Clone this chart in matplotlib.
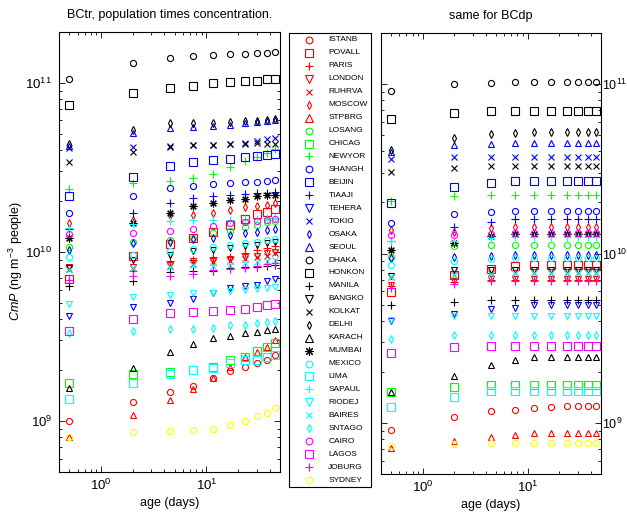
import matplotlib
matplotlib.use("Agg")
import matplotlib.pyplot as plt
import numpy as np

plt.rcParams['font.family'] = ['Liberation Sans', 'DejaVu Sans']
plt.rcParams['mathtext.fontset'] = 'custom'
plt.rcParams['mathtext.rm'] = 'Liberation Sans'
plt.rcParams['mathtext.it'] = 'Liberation Sans:italic'
plt.rcParams['mathtext.default'] = 'regular'

# ---------------- data (values in units of 1e9 ng m^-3 people) ----------------
age = [0.5, 2, 4.5, 7.5, 11.5, 16.75, 23.5, 30.5, 37.5, 44.5]

cities = ['ISTANB', 'POVALL', 'PARIS', 'LONDON', 'RUHRVA', 'MOSCOW', 'STPBRG',
          'LOSANG', 'CHICAG', 'NEWYOR',
          'SHANGH', 'BEIJIN', 'TIAAJI', 'TEHERA', 'TOKIO', 'OSAKA', 'SEOUL',
          'DHAKA', 'HONKON', 'MANILA', 'BANGKO', 'KOLKAT', 'DELHI', 'KARACH', 'MUMBAI',
          'MEXICO', 'LIMA', 'SAPAUL', 'RIODEJ', 'BAIRES', 'SNTAGO',
          'CAIRO', 'LAGOS', 'JOBURG',
          'SYDNEY']

# BCtr (left panel)
tr_ISTANB = [1.0, 1.29, 1.48, 1.62, 1.8, 1.97, 2.1, 2.2, 2.3, 2.45]
tr_POVALL = [6.95, 9.5, 11.1, 12.1, 13.2, 14.5, 15.6, 16.7, 17.3, 17.9]
tr_PARIS = [6.8, 7.7, 8.8, 9.0, 9.3, 9.4, 9.85, 10.3, 10.6, 10.8]
tr_LONDON = [8.1, 8.1, 8.4, 8.8, 8.9, 9.1, 9.4, 9.5, 9.8, 10.0]
tr_RUHRVA = [7.9, 8.0, 8.3, 8.5, 8.7, 8.9, 9.1, 9.4, 9.5, 9.8]
tr_MOSCOW = [14.9, 15.5, 16.6, 16.6, 16.9, 17.6, 18.4, 18.8, 19.0, 19.4]
tr_STPBRG = [0.805, 1.09, 1.34, 1.54, 1.8, 2.1, 2.4, 2.55, 2.75, 3.0]
tr_LOSANG = [10.7, 11.5, 11.8, 12.1, 12.9, 13.3, 14.0, 14.4, 15.0, 15.2]
tr_CHICAG = [1.67, 1.89, 1.94, 2.0, 2.1, 2.3, 2.4, 2.6, 2.75, 2.9]
tr_NEWYOR = [23.5, 25.7, 26.3, 27.4, 28.9, 32.0, 34.4, 36.6, 38.3, 40.5]
tr_SHANGH = [17.1, 21.3, 23.8, 24.7, 25.2, 25.6, 25.8, 26.1, 26.3, 26.7]
tr_BEIJIN = [21.5, 27.9, 32.4, 33.9, 35.0, 35.5, 36.6, 37.1, 37.5, 37.8]
tr_TIAAJI = [13.7, 16.9, 19.4, 20.8, 21.4, 21.8, 22.0, 22.2, 22.4, 22.7]
tr_TEHERA = [4.2, 4.7, 5.0, 5.3, 5.7, 6.1, 6.3, 6.4, 6.7, 6.9]
tr_TOKIO = [41.0, 41.9, 42.5, 43.0, 43.2, 43.8, 44.3, 45.5, 46.3, 47.0]
tr_OSAKA = [10.3, 11.3, 11.5, 11.9, 12.1, 12.6, 12.9, 13.2, 13.5, 13.7]
tr_SEOUL = [42.3, 50.3, 53.8, 55.0, 55.5, 56.3, 57.6, 58.9, 59.7, 60.5]
tr_DHAKA = [106, 131, 140, 144, 147, 148, 149, 150, 151, 152]
tr_HONKON = [73.8, 86.6, 93.4, 96.5, 100, 101, 102, 103, 105, 105.5]
tr_MANILA = [6.3, 6.7, 7.65, 7.75, 7.75, 8.0, 8.1, 8.2, 8.3, 8.4]
tr_BANGKO = [8.05, 9.0, 9.6, 10.2, 10.3, 10.6, 10.8, 11.0, 11.3, 11.5]
tr_KOLKAT = [34.2, 38.9, 41.9, 42.9, 42.9, 43.5, 43.5, 43.9, 43.5, 43.5]
tr_DELHI = [43.5, 53.0, 57.6, 58.0, 58.0, 58.9, 59.2, 59.7, 60.2, 60.8]
tr_KARACH = [1.57, 2.05, 2.56, 2.84, 3.08, 3.2, 3.3, 3.35, 3.45, 3.5]
tr_MUMBAI = [12.1, 14.8, 17.1, 18.6, 19.4, 20.3, 20.5, 21.3, 21.6, 21.8]
tr_MEXICO = [9.3, 9.6, 10.1, 10.4, 10.7, 11.0, 11.3, 11.5, 11.8, 11.9]
tr_LIMA = [1.36, 1.67, 1.9, 2.0, 2.05, 2.2, 2.3, 2.3, 2.4, 2.45]
tr_SAPAUL = [13.8, 14.6, 15.3, 15.4, 15.5, 15.5, 15.6, 15.7, 15.8, 15.9]
tr_RIODEJ = [4.9, 5.45, 5.6, 5.75, 5.75, 5.85, 5.95, 6.05, 6.1, 6.2]
tr_BAIRES = [7.85, 8.0, 8.2, 8.4, 8.3, 8.4, 8.6, 8.7, 8.8, 9.0]
tr_SNTAGO = [3.32, 3.43, 3.5, 3.5, 3.55, 3.7, 3.7, 3.8, 3.85, 3.9]
tr_CAIRO = [12.8, 13.0, 13.4, 13.7, 14.2, 14.9, 15.0, 15.2, 15.5, 15.6]
tr_LAGOS = [3.43, 4.0, 4.33, 4.4, 4.5, 4.55, 4.6, 4.7, 4.85, 4.9]
tr_JOBURG = [6.8, 7.2, 7.2, 7.4, 7.85, 7.96, 8.05, 8.3, 8.5, 8.6]
tr_SYDNEY = [0.805, 0.86, 0.87, 0.88, 0.90, 0.95, 1.0, 1.07, 1.12, 1.2]

# BCdp (right panel)
dp_ISTANB = [0.91, 1.09, 1.17, 1.19, 1.23, 1.25, 1.26, 1.26, 1.26, 1.26]
dp_POVALL = [5.9, 7.45, 8.15, 8.4, 8.5, 8.6, 8.6, 8.6, 8.6, 8.6]
dp_PARIS = [6.4, 6.75, 6.95, 6.95, 6.95, 6.95, 6.95, 6.95, 6.95, 6.95]
dp_LONDON = [6.5, 6.9, 7.1, 7.1, 7.1, 7.1, 7.1, 7.1, 7.1, 7.1]
dp_RUHRVA = [7.3, 7.5, 7.7, 7.7, 7.7, 7.7, 7.7, 7.7, 7.7, 7.7]
dp_MOSCOW = [13.8, 13.4, 14.2, 14.3, 14.3, 14.3, 14.3, 14.3, 14.3, 14.3]
dp_STPBRG = [0.71, 0.78, 0.83, 0.85, 0.87, 0.87, 0.87, 0.87, 0.87, 0.87]
dp_LOSANG = [9.5, 11.0, 11.2, 11.2, 11.2, 11.2, 11.2, 11.2, 11.2, 11.2]
dp_CHICAG = [1.52, 1.64, 1.67, 1.67, 1.67, 1.67, 1.67, 1.67, 1.67, 1.67]
dp_NEWYOR = [20.5, 21.8, 22.1, 22.1, 22.1, 22.1, 22.1, 22.1, 22.1, 22.1]
dp_SHANGH = [15.2, 17.1, 17.6, 17.8, 17.8, 17.8, 17.8, 17.8, 17.8, 17.8]
dp_BEIJIN = [19.8, 24.6, 26.2, 26.6, 26.6, 26.6, 26.6, 26.6, 26.6, 26.6]
dp_TIAAJI = [11.9, 14.4, 15.4, 15.9, 15.9, 15.9, 15.9, 15.9, 15.9, 15.9]
dp_TEHERA = [4.0, 4.4, 4.7, 4.8, 5.0, 5.0, 5.0, 5.0, 5.0, 5.0]
dp_TOKIO = [36.1, 37.3, 37.3, 37.3, 37.3, 37.3, 37.3, 37.3, 37.3, 37.3]
dp_OSAKA = [9.4, 9.6, 9.7, 9.8, 9.8, 9.8, 9.8, 9.8, 9.8, 9.8]
dp_SEOUL = [39.6, 43.8, 44.3, 44.8, 44.8, 44.8, 44.8, 44.8, 44.8, 44.8]
dp_DHAKA = [90.4, 100, 102, 103, 103, 103, 103, 103, 103, 103]
dp_HONKON = [62.1, 67.4, 68.9, 68.9, 68.9, 68.9, 68.9, 68.9, 68.9, 68.9]
dp_MANILA = [5.0, 5.2, 5.3, 5.3, 5.3, 5.3, 5.3, 5.3, 5.3, 5.3]
dp_BANGKO = [7.4, 8.0, 8.0, 8.0, 8.0, 8.0, 8.0, 8.0, 8.0, 8.0]
dp_KOLKAT = [30.4, 31.8, 32.9, 32.9, 32.9, 32.9, 32.9, 32.9, 32.9, 32.9]
dp_DELHI = [40.9, 47.9, 50.8, 51.7, 52.4, 52.4, 52.4, 52.4, 52.4, 52.4]
dp_KARACH = [1.52, 1.89, 2.2, 2.35, 2.45, 2.45, 2.45, 2.45, 2.45, 2.45]
dp_MUMBAI = [10.5, 11.6, 12.7, 13.1, 13.1, 13.1, 13.1, 13.1, 13.1, 13.1]
dp_MEXICO = [8.5, 9.0, 9.3, 9.4, 9.4, 9.4, 9.4, 9.4, 9.4, 9.4]
dp_LIMA = [1.24, 1.43, 1.55, 1.55, 1.55, 1.55, 1.55, 1.55, 1.55, 1.55]
dp_SAPAUL = [11.9, 11.9, 12.3, 12.5, 12.5, 12.5, 12.5, 12.5, 12.5, 12.5]
dp_RIODEJ = [4.03, 4.3, 4.3, 4.3, 4.3, 4.3, 4.3, 4.3, 4.3, 4.3]
dp_BAIRES = [7.3, 7.5, 7.6, 7.7, 7.7, 7.7, 7.7, 7.7, 7.7, 7.7]
dp_SNTAGO = [3.14, 3.3, 3.3, 3.3, 3.3, 3.3, 3.3, 3.3, 3.3, 3.3]
dp_CAIRO = [12.8, 12.8, 13.1, 13.2, 13.2, 13.2, 13.2, 13.2, 13.2, 13.2]
dp_LAGOS = [2.6, 2.8, 2.85, 2.85, 2.85, 2.85, 2.85, 2.85, 2.85, 2.85]
dp_JOBURG = [6.3, 6.6, 6.85, 6.85, 6.85, 6.85, 6.85, 6.85, 6.85, 6.85]
dp_SYDNEY = [0.73, 0.75, 0.76, 0.76, 0.76, 0.76, 0.76, 0.76, 0.76, 0.76]

bctr = [tr_ISTANB, tr_POVALL, tr_PARIS, tr_LONDON, tr_RUHRVA, tr_MOSCOW, tr_STPBRG,
        tr_LOSANG, tr_CHICAG, tr_NEWYOR,
        tr_SHANGH, tr_BEIJIN, tr_TIAAJI, tr_TEHERA, tr_TOKIO, tr_OSAKA, tr_SEOUL,
        tr_DHAKA, tr_HONKON, tr_MANILA, tr_BANGKO, tr_KOLKAT, tr_DELHI, tr_KARACH, tr_MUMBAI,
        tr_MEXICO, tr_LIMA, tr_SAPAUL, tr_RIODEJ, tr_BAIRES, tr_SNTAGO,
        tr_CAIRO, tr_LAGOS, tr_JOBURG, tr_SYDNEY]
bcdp = [dp_ISTANB, dp_POVALL, dp_PARIS, dp_LONDON, dp_RUHRVA, dp_MOSCOW, dp_STPBRG,
        dp_LOSANG, dp_CHICAG, dp_NEWYOR,
        dp_SHANGH, dp_BEIJIN, dp_TIAAJI, dp_TEHERA, dp_TOKIO, dp_OSAKA, dp_SEOUL,
        dp_DHAKA, dp_HONKON, dp_MANILA, dp_BANGKO, dp_KOLKAT, dp_DELHI, dp_KARACH, dp_MUMBAI,
        dp_MEXICO, dp_LIMA, dp_SAPAUL, dp_RIODEJ, dp_BAIRES, dp_SNTAGO,
        dp_CAIRO, dp_LAGOS, dp_JOBURG, dp_SYDNEY]
UNIT = 1e9

# ---------------- styles ----------------
R, G, B, K, C, M, Y = '#ff0000', '#00ff00', '#0000ff', '#000000', '#00ffff', '#ff00ff', '#ffff00'
colors = [R] * 7 + [G] * 3 + [B] * 7 + [K] * 8 + [C] * 6 + [M] * 3 + [Y]
ASTER = (8, 2, 0)
markers = (['o', 's', '+', 'v', 'x', 'd', '^'] + ['o', 's', '+'] +
           ['o', 's', '+', 'v', 'x', 'd', '^'] +
           ['o', 's', '+', 'v', 'x', 'd', '^', ASTER] +
           ['o', 's', '+', 'v', 'x', 'd'] + ['o', 's', '+'] + ['o'])


def msize(m):
    if isinstance(m, tuple):
        return 5.6
    return {'o': 4.4, 's': 5.4, '+': 5.2, 'v': 5.0, 'x': 4.4, 'd': 3.6, '^': 5.0}[m]


fig = plt.figure(figsize=(6.27, 5.12), dpi=100)
W, H = 627.0, 512.0
axL = fig.add_axes([59 / W, 1 - 472 / H, 221 / W, 440 / H])
axR = fig.add_axes([381 / W, 1 - 474 / H, 220 / W, 441 / H])
axG = fig.add_axes([289 / W, 1 - 487 / H, 82 / W, 454 / H])

for ax, data in ((axL, bctr), (axR, bcdp)):
    for vals, col, mk in zip(data, colors, markers):
        ax.plot(age, np.asarray(vals) * UNIT, linestyle='none', marker=mk,
                mfc='none', mec=col, ms=msize(mk), mew=0.8, clip_on=True)
    ax.set_xscale('log')
    ax.set_yscale('log')
    ax.set_xlim(0.4, 50)
    ax.set_ylim(5e8, 2e11)
    ax.tick_params(which='both', direction='in', top=True, right=True,
                   labelsize=9.5, width=0.6)
    ax.tick_params(axis='x', which='both', pad=4)
    ax.tick_params(which='major', length=4)
    ax.tick_params(which='minor', length=2)
    for s in ax.spines.values():
        s.set_linewidth(0.8)
    ax.set_xlabel('age (days)', fontsize=9)
    ax.xaxis.set_label_coords(0.5, -0.056)

axL.tick_params(axis='y', which='both', pad=5)
axR.tick_params(axis='y', which='both', labelleft=False, labelright=True,
                pad=0.5, labelsize=9)
axL.set_title('BCtr, population times concentration.', fontsize=9, pad=10)
axR.set_title('same for BCdp', fontsize=9, pad=10)
axL.set_ylabel(r'$\it{CmP}$ (ng m$^{-3}$ people)', fontsize=9)
axL.yaxis.set_label_coords(-0.154, 0.48)

# legend box
axG.set_xlim(0, 1)
axG.set_ylim(len(cities) - 0.46, -0.54)
axG.set_xticks([])
axG.set_yticks([])
for s in axG.spines.values():
    s.set_linewidth(0.8)
for i, (name, col, mk) in enumerate(zip(cities, colors, markers)):
    axG.plot([0.244], [i], linestyle='none', marker=mk, mfc='none', mec=col,
             ms=msize(mk) * 1.1, mew=0.8)
    axG.text(0.48, i, name, fontsize=6, va='center', ha='left')

fig.savefig('out.png', dpi=100)
